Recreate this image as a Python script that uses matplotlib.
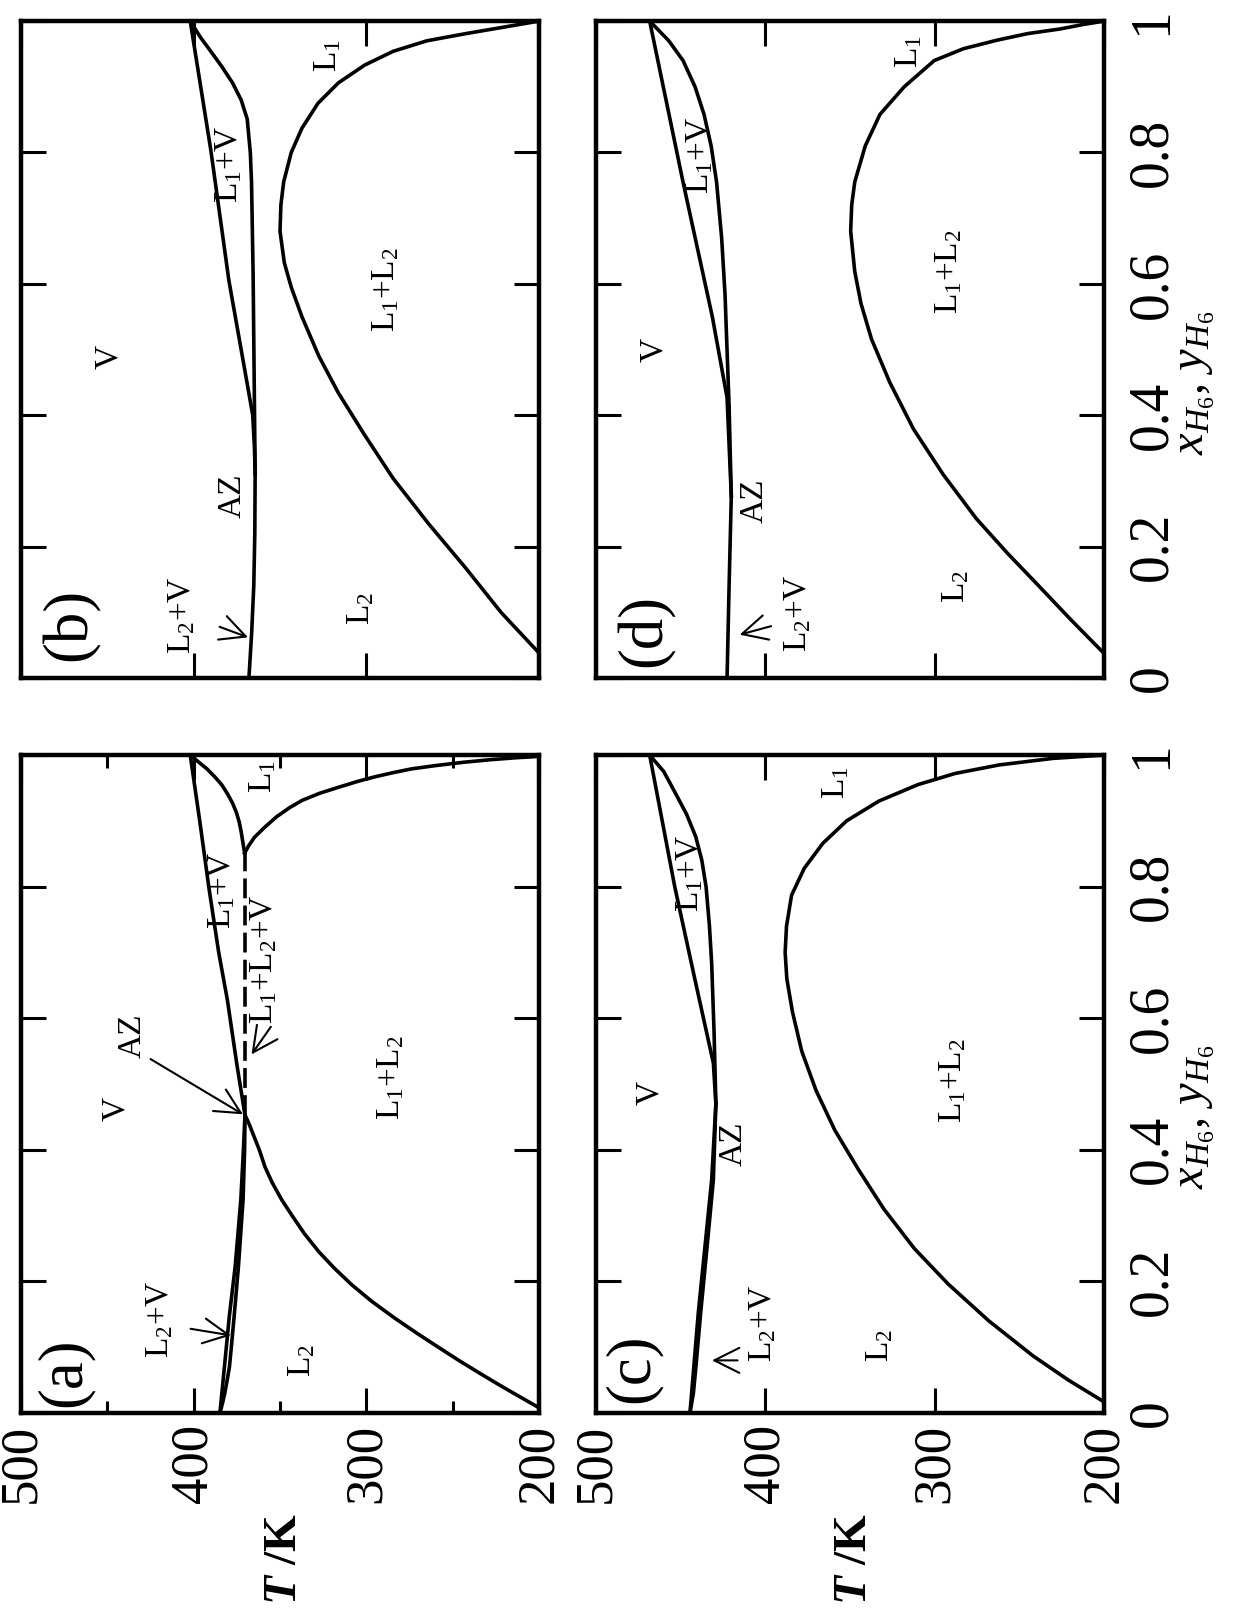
import matplotlib
matplotlib.use("Agg")
import matplotlib.pyplot as plt

plt.rcParams['font.family'] = ['Liberation Serif', 'DejaVu Serif']
plt.rcParams['mathtext.fontset'] = 'custom'
plt.rcParams['mathtext.rm'] = 'Liberation Serif'
plt.rcParams['mathtext.it'] = 'Liberation Serif:italic'
plt.rcParams['mathtext.bf'] = 'Liberation Serif:italic:bold'

# ---- panel (a) ----
a_dew1_x = [1.0, 0.9, 0.795, 0.7, 0.628, 0.53, 0.453]
a_dew1_T = [402, 396.5, 391.0, 385.5, 380.5, 375.0, 370.3]
a_bub1_x = [1.0, 0.988, 0.979, 0.967, 0.955, 0.941, 0.927, 0.913, 0.899, 0.885, 0.872, 0.851]
a_bub1_T = [402, 396.5, 392.3, 387.8, 383.8, 380.4, 377.5, 375.3, 373.7, 372.6, 371.8, 370.5]
a_dew2_x = [0.0, 0.07, 0.146, 0.222, 0.324, 0.4, 0.453]
a_dew2_T = [384.8, 382.2, 379.4, 376.0, 372.7, 371.2, 370.3]
a_bub2_x = [0.0, 0.015, 0.03, 0.05, 0.07, 0.1, 0.146, 0.222, 0.324, 0.4, 0.453]
a_bub2_T = [384.8, 383.3, 382.0, 380.6, 379.3, 378.2, 376.6, 374.1, 371.4, 370.5, 370.3]
a_3ph_x = [0.453, 0.851]
a_3ph_T = [370.0, 370.0]
a_lle1_x = [0.851, 0.862, 0.875, 0.89, 0.906, 0.92, 0.931, 0.942, 0.951, 0.96,
            0.967, 0.973, 0.979, 0.984, 0.989, 0.993, 0.996, 0.998]
a_lle1_T = [370.5, 368.2, 364.8, 359.0, 352.1, 344.5, 337.3, 327.0, 316.2, 305.0,
            295.0, 285.0, 273.9, 260.0, 244.0, 228.0, 213.0, 200]
a_lle2_x = [0.453, 0.44, 0.42, 0.4, 0.374, 0.35, 0.324, 0.3, 0.273, 0.245, 0.22,
            0.195, 0.17, 0.145, 0.12, 0.1, 0.08, 0.062, 0.045, 0.032, 0.02, 0.008]
a_lle2_T = [370.3, 368.0, 365.0, 362.0, 358.7, 354.5, 349.0, 343.0, 336.0, 327.5, 318.5,
            308.5, 297.0, 284.0, 270.0, 258.3, 246.5, 235.3, 224.5, 216.0, 208.0, 200]

# ---- panel (b) ----
b_dew_x = [1.0, 0.804, 0.605, 0.448, 0.4, 0.35, 0.311, 0.22, 0.14, 0.07, 0.0]
b_dew_T = [402, 390.1, 379.6, 369.0, 365.8, 364.8, 364.4, 364.6, 365.2, 366.4, 368.0]
b_bub_x = [1.0, 0.975, 0.954, 0.93, 0.906, 0.88, 0.851, 0.8, 0.755, 0.619, 0.414, 0.311]
b_bub_T = [402, 396.0, 390.1, 383.5, 377.5, 372.5, 369.0, 367.2, 366.5, 365.6, 364.8, 364.4]
b_lle_x = [0.041, 0.1, 0.167, 0.235, 0.304, 0.37, 0.434, 0.49, 0.55, 0.595, 0.632, 0.68,
           0.72, 0.755, 0.8, 0.837, 0.875, 0.906, 0.933, 0.954, 0.97, 0.981, 0.991, 1.0]
b_lle_T = [201, 222, 242.3, 264, 284.5, 301, 316.2, 327.5, 337.3, 343.5, 347.5, 350,
           349.5, 347.9, 343.5, 337.3, 328, 316.2, 301, 284.5, 265, 242.3, 220, 200]

# ---- panel (c) ----
c_dew1_x = [1.0, 0.8, 0.658, 0.532, 0.47]
c_dew1_T = [468.3, 453.5, 441.5, 430.7, 429.2]
c_bub1_x = [1.0, 0.975, 0.944, 0.91, 0.876, 0.84, 0.8, 0.74, 0.684, 0.581, 0.47]
c_bub1_T = [468.3, 460.0, 453.5, 446.5, 441.1, 437.5, 435.0, 433.0, 431.7, 430.3, 429.2]
c_dew2_x = [0.0, 0.152, 0.354, 0.47]
c_dew2_T = [444.5, 439.6, 431.7, 429.2]
c_bub2_x = [0.0, 0.03, 0.07, 0.152, 0.25, 0.354, 0.47]
c_bub2_T = [444.5, 442.5, 441.0, 438.2, 434.5, 430.7, 429.2]
c_lle_x = [0.017, 0.05, 0.087, 0.14, 0.196, 0.25, 0.31, 0.37, 0.43, 0.49, 0.55, 0.61,
           0.66, 0.7, 0.74, 0.787, 0.828, 0.866, 0.9, 0.93, 0.955, 0.972, 0.985, 0.995, 1.0]
c_lle_T = [200, 221, 242, 268, 292, 312, 330, 345, 359, 370, 378.5, 384,
           387.3, 388.3, 387.5, 384.5, 377, 366, 352, 333, 310, 288, 262, 230, 200]

# ---- panel (d) ----
d_dew_x = [1.0, 0.755, 0.55, 0.427, 0.277, 0.14, 0.0]
d_dew_T = [468.3, 448.6, 431.3, 422.6, 420.1, 421.4, 422.6]
d_bub_x = [1.0, 0.97, 0.94, 0.9, 0.858, 0.81, 0.755, 0.67, 0.584, 0.414, 0.277]
d_bub_T = [468.3, 457.0, 448.6, 441.5, 436.2, 432.0, 428.8, 425.8, 423.8, 421.4, 420.1]
d_lle_x = [0.041, 0.09, 0.14, 0.19, 0.243, 0.31, 0.379, 0.45, 0.516, 0.57, 0.619, 0.68,
           0.72, 0.755, 0.81, 0.858, 0.9, 0.94, 0.958, 0.971, 0.981, 0.988, 0.995, 1.0]
d_lle_T = [201.3, 220, 238.4, 257, 275.5, 295, 312.5, 326.5, 337.3, 343.5, 347.2, 349.6,
           349, 347.2, 341, 332.3, 318, 300.2, 283, 263.1, 245, 226, 212, 200]

T_ticks = [500, 400, 300, 200]
x_ticks = [0, 0.2, 0.4, 0.6, 0.8, 1]
x_ticklabels = ['0', '0.2', '0.4', '0.6', '0.8', '1']

LW = 2.6
TS = 38
LS = 24


def setup(ax, bottom_labels, right_labels, minor=False):
    ax.set_xlim(500, 200)
    ax.set_ylim(0, 1)
    for s in ax.spines.values():
        s.set_linewidth(3.2)
    ax.set_xticks(T_ticks)
    ax.set_yticks(x_ticks)
    if minor:
        ax.set_xticks([450, 350, 250], minor=True)
    ax.tick_params(which='both', direction='in', top=True, bottom=True,
                   left=True, right=True, width=2.2)
    ax.tick_params(which='major', length=18)
    ax.tick_params(which='minor', length=9)
    ax.tick_params(axis='x', labelbottom=bottom_labels, labelsize=TS,
                   labelrotation=90, pad=8)
    ax.tick_params(axis='y', labelleft=False, labelright=right_labels,
                   labelsize=TS + 2, labelrotation=90, pad=16)
    ax.set_yticklabels(x_ticklabels)
    for lbl in ax.get_yticklabels():
        lbl.set_va('center')


def lab(ax, T, x, s, size=LS):
    ax.text(T, x, s, rotation=90, ha='center', va='center', fontsize=size)


def arrow(ax, T0, x0, T1, x1):
    ax.annotate('', xy=(T1, x1), xytext=(T0, x0),
                arrowprops=dict(arrowstyle='->,head_length=0.6,head_width=0.3',
                                lw=1.5, mutation_scale=30, shrinkA=0, shrinkB=0))


fig = plt.figure(figsize=(12.36, 16.11), dpi=100)
ax_a = fig.add_axes([0.017, 0.1229, 0.4191, 0.4084])
ax_b = fig.add_axes([0.017, 0.5791, 0.4191, 0.4078])
ax_c = fig.add_axes([0.4822, 0.1229, 0.411, 0.4084])
ax_d = fig.add_axes([0.4822, 0.5791, 0.411, 0.4078])

setup(ax_a, True, False, minor=True)
setup(ax_b, False, False)
setup(ax_c, True, True)
setup(ax_d, False, True)

# (a)
ax_a.plot(a_dew1_T, a_dew1_x, 'k-', lw=LW)
ax_a.plot(a_bub1_T, a_bub1_x, 'k-', lw=LW)
ax_a.plot(a_dew2_T, a_dew2_x, 'k-', lw=LW)
ax_a.plot(a_bub2_T, a_bub2_x, 'k-', lw=LW)
ax_a.plot(a_3ph_T, a_3ph_x, 'k', lw=LW, linestyle=(0, (5.5, 2)))
ax_a.plot(a_lle1_T, a_lle1_x, 'k-', lw=LW)
ax_a.plot(a_lle2_T, a_lle2_x, 'k-', lw=LW)
lab(ax_a, 474.6, 0.062, '(a)', 45)
lab(ax_a, 445, 0.462, 'V')
lab(ax_a, 435.6, 0.573, 'AZ')
arrow(ax_a, 425, 0.538, 371.5, 0.454)
lab(ax_a, 419.7, 0.142, r'L$_2$+V')
arrow(ax_a, 401.8, 0.128, 378.5, 0.118)
lab(ax_a, 337.3, 0.08, r'L$_2$')
lab(ax_a, 285.6, 0.51, r'L$_1$+L$_2$')
lab(ax_a, 384, 0.795, r'L$_1$+V')
lab(ax_a, 359.5, 0.69, r'L$_1$+L$_2$+V')
arrow(ax_a, 355.3, 0.587, 366.5, 0.545)
lab(ax_a, 360, 0.968, r'L$_1$')

# (b)
ax_b.plot(b_dew_T, b_dew_x, 'k-', lw=LW)
ax_b.plot(b_bub_T, b_bub_x, 'k-', lw=LW)
ax_b.plot(b_lle_T, b_lle_x, 'k-', lw=LW)
lab(ax_b, 471.5, 0.082, '(b)', 45)
lab(ax_b, 449.3, 0.489, 'V')
lab(ax_b, 377.5, 0.277, 'AZ')
lab(ax_b, 379.6, 0.783, r'L$_1$+V')
lab(ax_b, 407, 0.096, r'L$_2$+V')
arrow(ax_b, 385, 0.078, 368.5, 0.062)
lab(ax_b, 303.5, 0.106, r'L$_2$')
lab(ax_b, 288.7, 0.591, r'L$_1$+L$_2$')
lab(ax_b, 322.5, 0.947, r'L$_1$')

# (c)
ax_c.plot(c_dew1_T, c_dew1_x, 'k-', lw=LW)
ax_c.plot(c_bub1_T, c_bub1_x, 'k-', lw=LW)
ax_c.plot(c_dew2_T, c_dew2_x, 'k-', lw=LW)
ax_c.plot(c_bub2_T, c_bub2_x, 'k-', lw=LW)
ax_c.plot(c_lle_T, c_lle_x, 'k-', lw=LW)
lab(ax_c, 478.2, 0.068, '(c)', 45)
lab(ax_c, 468.3, 0.486, 'V')
lab(ax_c, 418.9, 0.41, 'AZ')
lab(ax_c, 444.9, 0.82, r'L$_1$+V')
lab(ax_c, 401.6, 0.137, r'L$_2$+V')
arrow(ax_c, 416.4, 0.08, 431.5, 0.08)
lab(ax_c, 332.3, 0.103, r'L$_2$')
lab(ax_c, 289, 0.506, r'L$_1$+L$_2$')
lab(ax_c, 358.3, 0.958, r'L$_1$')

# (d)
ax_d.plot(d_dew_T, d_dew_x, 'k-', lw=LW)
ax_d.plot(d_bub_T, d_bub_x, 'k-', lw=LW)
ax_d.plot(d_lle_T, d_lle_x, 'k-', lw=LW)
lab(ax_d, 470.8, 0.072, '(d)', 45)
lab(ax_d, 465.9, 0.499, 'V')
lab(ax_d, 406.5, 0.27, 'AZ')
lab(ax_d, 438.7, 0.796, r'L$_1$+V')
lab(ax_d, 380.6, 0.099, r'L$_2$+V')
arrow(ax_d, 396.6, 0.079, 415.2, 0.066)
lab(ax_d, 287.8, 0.14, r'L$_2$')
lab(ax_d, 291.5, 0.619, r'L$_1$+L$_2$')
lab(ax_d, 315, 0.954, r'L$_1$')

# axis titles
for ax in (ax_a, ax_c):
    ax.text(0.51, -0.222, r'$\mathbf{T}$ /K', transform=ax.transAxes,
            rotation=90, ha='center', va='center', fontsize=34,
            fontweight='bold')
for ax in (ax_c, ax_d):
    ax.text(1.18, 0.45, r'$x_{H_6}$, $y_{H_6}$', transform=ax.transAxes,
            rotation=90, ha='center', va='center', fontsize=35)

fig.savefig('out.png', dpi=100)
